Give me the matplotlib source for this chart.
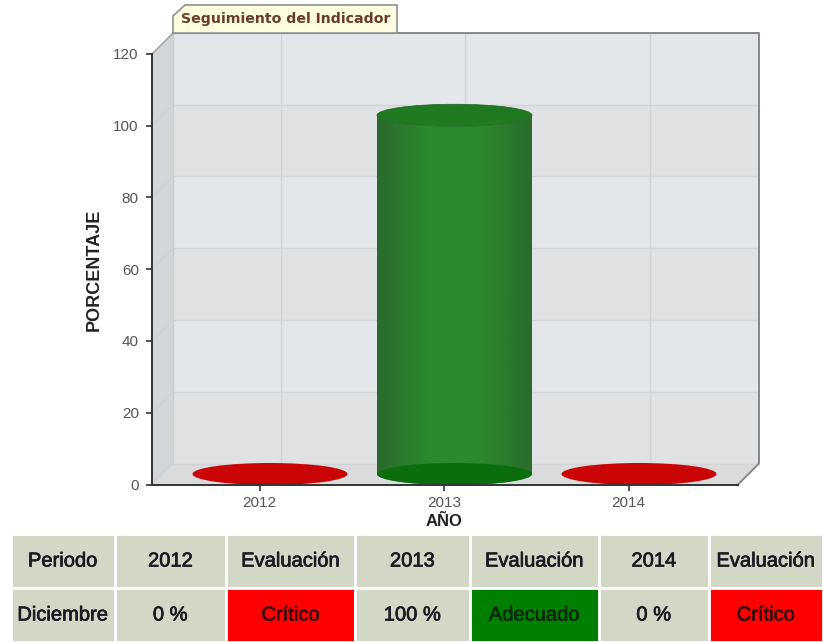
"""Seguimiento del Indicador: fake-3D cylinder chart with the evaluation table below."""

import matplotlib
matplotlib.use("Agg")
import matplotlib.patheffects as pe
import matplotlib.pyplot as plt
import numpy as np
from matplotlib.colors import LinearSegmentedColormap
from matplotlib.patches import Ellipse, PathPatch, Polygon
from matplotlib.path import Path

years = ["2012", "2013", "2014"]
values = [0, 100, 0]
y_ticks = [0, 20, 40, 60, 80, 100, 120]

table_header = ["Periodo", "2012", "Evaluación", "2013", "Evaluación", "2014", "Evaluación"]
table_row = ["Diciembre", "0 %", "Crítico", "100 %", "Adecuado", "0 %", "Crítico"]

W, H = 823, 642
AX_L, AX_R, AX_B, AX_T = 152, 738, 484.5, 54
X_PER_CAT = 184.5
Y_PER_UNIT = (AX_B - AX_T) / 120
DEPTH_PX = 21

C_CELL = "#d3d7c5"
C_RED = "#ff0000"
C_GREEN = "#008000"
C_TEXT = "#1a1a22"

plt.rcParams["font.family"] = ["Liberation Sans", "DejaVu Sans"]

fig = plt.figure(figsize=(W / 100, H / 100), dpi=100, facecolor="white")
ax = fig.add_axes([AX_L / W, 1 - AX_B / H, (AX_R - AX_L) / W, (AX_B - AX_T) / H])
ax.patch.set_alpha(0)

xlim = ((AX_L - 259.5) / X_PER_CAT, (AX_R - 259.5) / X_PER_CAT)
ylim = (0, 120)
dx = DEPTH_PX / X_PER_CAT
dy = DEPTH_PX / Y_PER_UNIT
x = np.arange(len(years))


def poly(pts, **kw):
    ax.add_patch(Polygon(pts, closed=True, clip_on=False, **kw))


# ── walls ────────────────────────────────────────────────────────────────────
x0, x1 = xlim
y_top = ylim[1]
poly([(x0, 0), (x0 + dx, dy), (x0 + dx, y_top + dy), (x0, y_top)], fc="#d0d6d9", ec="none", zorder=1)
poly([(x0, 0), (x0 + dx, dy), (x1 + dx, dy), (x1, 0)], fc="#d9dbdd", ec="none", zorder=1)

bands = ["#e0e1e3", "#e3e7ea"]
for i in range(len(y_ticks) - 1):
    poly([(x0 + dx, y_ticks[i] + dy), (x1 + dx, y_ticks[i] + dy),
          (x1 + dx, y_ticks[i + 1] + dy), (x0 + dx, y_ticks[i + 1] + dy)],
         fc=bands[i % 2], ec="none", zorder=1)

for t in y_ticks:
    ax.plot([x0 + dx, x1 + dx], [t + dy, t + dy], color="#d2d4d7", lw=1.0, zorder=2, clip_on=False)
    ax.plot([x0, x0 + dx], [t, t + dy], color="#ccd1d4", lw=0.7, zorder=2, clip_on=False)
for c in x:
    ax.plot([c + dx, c + dx], [dy, y_top + dy], color="#d2d4d7", lw=1.0, zorder=2, clip_on=False)

# wall edges
ax.plot([x0 + dx, x0 + dx], [dy, y_top + dy], color="#c8ccce", lw=1, zorder=2, clip_on=False)
ax.plot([x0, x0 + dx], [y_top, y_top + dy], color="#a0a3a5", lw=1.1, zorder=2, clip_on=False)
ax.plot([x0 + dx, x1 + dx, x1 + dx, x1], [y_top + dy, y_top + dy, dy, 0],
        color="#85888b", lw=1.4, zorder=2, clip_on=False)

# ── cylinders ────────────────────────────────────────────────────────────────
ew = 155 / X_PER_CAT
eh = 22 / Y_PER_UNIT
cyl_cmap = LinearSegmentedColormap.from_list("cyl", ["#2c6a2c", "#2a8a2e", "#2a8a2e", "#2a6b2c"])

for c, v in zip(x, values):
    cx, cy = c + dx / 2, dy / 2
    if v == 0:
        ax.add_patch(Ellipse((cx, cy), ew, eh, fc="#cb0505", ec="none", zorder=4, clip_on=False))
        continue

    t = np.linspace(np.pi, 2 * np.pi, 60)
    low = np.column_stack([cx + ew / 2 * np.cos(t), cy + eh / 2 * np.sin(t)])
    up = np.column_stack([cx + ew / 2 * np.cos(t[::-1]), cy + v + eh / 2 * np.sin(t[::-1])])
    body = Path(np.vstack([low, up, low[:1]]))
    patch = PathPatch(body, fc="none", ec="none", transform=ax.transData)
    ax.add_patch(patch)
    im = ax.imshow(np.linspace(0, 1, 256)[None, :], cmap=cyl_cmap, aspect="auto", zorder=3,
                   extent=(cx - ew / 2, cx + ew / 2, cy - eh / 2, cy + v), clip_on=True)
    im.set_clip_path(patch)
    ax.add_patch(Ellipse((cx, cy), ew, eh, fc="#0a6e0c", ec="none", zorder=4, clip_on=False))
    ax.add_patch(Ellipse((cx, cy + v), ew, eh, fc="#1f7a22", ec="#1b641d", lw=0.5, zorder=4, clip_on=False))

ax.set_xlim(xlim)
ax.set_ylim(ylim)

# ── axes ─────────────────────────────────────────────────────────────────────
ax.spines["top"].set_visible(False)
ax.spines["right"].set_visible(False)
for side in ("left", "bottom"):
    ax.spines[side].set_color("#333333")
    ax.spines[side].set_linewidth(1.4)
    ax.spines[side].set_zorder(6)
ax.set_xticks(x, years)
ax.set_yticks(y_ticks)
ax.tick_params(axis="both", colors="#333333", labelcolor="#555555", labelsize=11, length=4.5, width=1.2)
ax.tick_params(axis="x", pad=4)
ax.tick_params(axis="y", pad=5)
ax.set_xlabel("AÑO", fontweight="bold", fontsize=12, color="#222222")
ax.xaxis.set_label_coords((444 - AX_L) / (AX_R - AX_L), -(514 - AX_B) / (AX_B - AX_T))
ax.set_ylabel("PORCENTAJE", fontweight="bold", fontsize=13, color="#222222")
ax.yaxis.set_label_coords(-(AX_L - 103) / (AX_R - AX_L), (AX_B - 270) / (AX_B - AX_T))

# ── title tab and table, on a full-figure overlay ────────────────────────────
ov = fig.add_axes([0, 0, 1, 1])
ov.set_xlim(0, W)
ov.set_ylim(H, 0)
ov.axis("off")
ov.patch.set_alpha(0)

ov.add_patch(Polygon([(173, 33), (173, 16), (185, 5), (397, 5), (397, 33)], closed=True,
                     fc="#fefde0", ec="#8f9290", lw=1.2))
ov.text(286, 19, "Seguimiento del Indicador", ha="center", va="center", fontsize=10.2,
        fontweight="bold", color="#6a3b2e", family=["DejaVu Sans"])

col_edges = [11, 114.5, 226, 355, 469.5, 599, 708.5, 823]
col_widths = list(np.diff(col_edges) / (col_edges[-1] - col_edges[0]))
cell_colors = [[C_CELL] * 7, [C_CELL, C_CELL, C_RED, C_CELL, C_GREEN, C_CELL, C_RED]]
tbl_ax = fig.add_axes([col_edges[0] / W, 0, (col_edges[-1] - col_edges[0]) / W, (H - 534) / H])
tbl_ax.axis("off")
tbl = tbl_ax.table(cellText=[table_header, table_row], cellColours=cell_colors, colWidths=col_widths,
                   cellLoc="center", bbox=[0, 0, 1, 1])
tbl.auto_set_font_size(False)
for (r, c), cell in tbl.get_celld().items():
    cell.set_edgecolor("white")
    cell.set_linewidth(2)
    label = cell.get_text()
    label.set_fontsize(14.5)
    label.set_color(C_TEXT)
    label.set_path_effects([pe.withStroke(linewidth=0.5, foreground=C_TEXT)])
for r, c, color in [(1, 2, "#3a0505"), (1, 6, "#3a0505"), (1, 4, "#0a2a0a")]:
    tbl[r, c].get_text().set_color(color)
    tbl[r, c].get_text().set_path_effects([pe.withStroke(linewidth=0.5, foreground=color)])

fig.savefig("out.png", dpi=100)
